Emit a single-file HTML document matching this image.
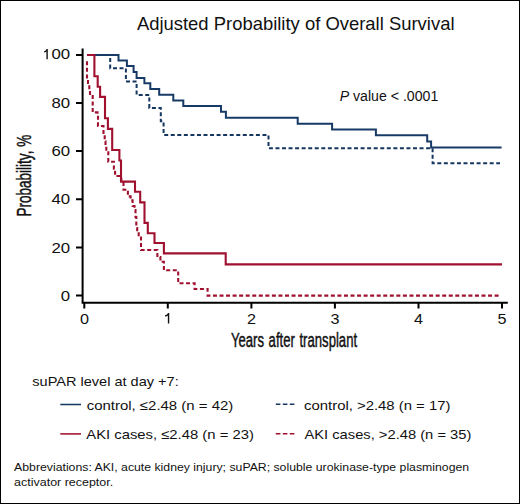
<!DOCTYPE html>
<html><head><meta charset="utf-8">
<style>
html,body{margin:0;padding:0;background:#fff;}
body{width:520px;height:504px;overflow:hidden;}
svg{display:block;}
text{font-family:"Liberation Sans",sans-serif;fill:#111;}
</style></head>
<body>
<svg width="520" height="504" viewBox="0 0 520 504">
<rect x="0.5" y="0.5" width="519" height="503" fill="#fff" stroke="#000" stroke-width="1"/>
<!-- title -->
<text x="136.9" y="29.6" font-size="18.6" textLength="317.6" lengthAdjust="spacingAndGlyphs">Adjusted Probability of Overall Survival</text>
<!-- axes -->
<g stroke="#000" stroke-width="2" fill="none">
<path d="M82.6 48.6 V303.6 M81.6 302.7 H507.8"/>
<path d="M76 54.9 H82 M76 103 H82 M76 151.1 H82 M76 199.3 H82 M76 247.5 H82 M76 295.6 H82"/>
<path d="M84.3 303 V308.6 M167.8 303 V308.6 M251.4 303 V308.6 M334.9 303 V308.6 M418.5 303 V308.6 M502 303 V308.6"/>
</g>
<!-- y tick labels -->
<g font-size="15" text-anchor="end">
<text transform="translate(70.1 59.3) scale(1.12 1)">00</text>
<text transform="translate(70.1 108.0) scale(1.12 1)">80</text>
<text transform="translate(70.1 156.1) scale(1.12 1)">60</text>
<text transform="translate(70.1 204.3) scale(1.12 1)">40</text>
<text transform="translate(70.1 252.5) scale(1.12 1)">20</text>
<text transform="translate(70.1 300.6) scale(1.12 1)">0</text>
</g>
<g font-size="15" text-anchor="middle">
<text transform="translate(84.5 323.5) scale(1.08 1)">0</text>

<text transform="translate(251.5 323.5) scale(1.08 1)">2</text>
<text transform="translate(334.9 323.5) scale(1.08 1)">3</text>
<text transform="translate(418.5 323.5) scale(1.08 1)">4</text>
<text transform="translate(502 323.5) scale(1.08 1)">5</text>
</g>
<path fill="#111" d="M46.4 49 H47.8 V59.3 H46.4 V51.5 C45.8 52.1 45 52.4 44.1 52.5 V51.3 C45.3 51.1 46.1 50.3 46.4 49 Z"/>
<path fill="#111" d="M167.85 313 H169.25 V323.4 H167.85 V315.5 C167.25 316.1 166 316.4 165 316.5 V315.3 C166.4 315.1 167.6 314.3 167.85 313 Z"/>
<!-- axis labels -->
<text x="230.9" y="346.5" font-size="20" textLength="126.2" word-spacing="1.5" stroke="#111" stroke-width="0.45" lengthAdjust="spacingAndGlyphs">Years after transplant</text>
<text transform="translate(31.4 216.6) rotate(-90)" x="0" y="0" font-size="19.6" textLength="81.8" stroke="#111" stroke-width="0.45" lengthAdjust="spacingAndGlyphs">Probability, %</text>
<!-- P value -->
<text x="339.7" y="100.8" font-size="14" textLength="98.6" lengthAdjust="spacingAndGlyphs"><tspan font-style="italic">P</tspan> value &lt; .0001</text>
<!-- curves -->
<g fill="none" stroke-width="2" stroke-linejoin="miter" stroke-linecap="butt">
<path stroke="#14365f" stroke-dasharray="4 2.55" d="M87 55 H110.2 V68.3 H125.9 V81.5 H136.6 V95 H149.3 V108 H160.8 V121.3 H163.6 V135 H268.5 V148.2 H432.6 V163.2 H500"/>
<path stroke="#173a66" d="M87 55 H118.5 V60.6 H126.9 V66.1 H133.6 V72 H136.6 V78 H144.4 V83.3 H150.3 V89 H159.2 V94.7 H173.3 V100.6 H183.3 V106 H221 V111.8 H225.9 V117.7 H297.7 V123.8 H332.1 V129.5 H375.9 V135.2 H427.2 V141.4 H431.1 V147.6 H501.6"/>
<path stroke="#a0102f" stroke-width="2.1" stroke-dasharray="4 2.55" d="M87 61.3 V78.6 H88 V83 H89.3 V89.3 H90 V96 H92.7 V112.4 H97.5 V115.2 H98 V126 H103.5 V134.8 H104.7 V141.2 H105.5 V146.7 H106.3 V152.3 H108.3 V161.7 H113.9 V168.8 H115.1 V176 H121.3 V183 H123.5 V189.7 H127.9 V196.4 H130.6 V200.4 H132.6 V206 H134.5 V210 H135.5 V217 H136.3 V228 H137.2 V232 H138.7 V236.3 H141 V250 H157.4 V257 H160.4 V261.8 H163.9 V270.3 H178.2 V283.2 H194.6 V289 H207.6 V295.6 H500"/>
<path stroke="#a0102f" stroke-width="2.1" d="M87 55 H94.4 V76.3 H97.7 V86.7 H100.1 V96.9 H105 V118.2 H107.9 V128.9 H112.2 V150 H119.4 V160.5 H121 V181.6 H135 V191.7 H140.2 V202.4 H144.5 V222.9 H147.8 V233.2 H154.5 V243 H163.9 V253.4 H225.7 V264.4 H502"/>
</g>
<!-- legend -->
<text x="32.3" y="386.2" font-size="13.5" textLength="146.4" lengthAdjust="spacingAndGlyphs">suPAR level at day +7:</text>
<g stroke-width="2">
<path stroke="#173a66" stroke-width="1.55" d="M60.3 404.5 H81"/>
<path stroke="#14365f" stroke-dasharray="4.6 2.4" stroke-width="1.6" d="M275.8 404.3 H294.6"/>
<path stroke="#a0102f" stroke-width="1.55" d="M60.3 433.9 H81"/>
<path stroke="#a0102f" stroke-dasharray="4.6 2.4" stroke-width="1.6" d="M275.8 433.8 H294.6"/>
</g>
<g font-size="13.4">
<text x="86.7" y="409.8" textLength="146.6" lengthAdjust="spacingAndGlyphs">control, ≤2.48 (n = 42)</text>
<text x="304.1" y="409.8" textLength="146.3" lengthAdjust="spacingAndGlyphs">control, &gt;2.48 (n = 17)</text>
<text x="86.25" y="439.3" textLength="167.6" lengthAdjust="spacingAndGlyphs">AKI cases, ≤2.48 (n = 23)</text>
<text x="304.4" y="439.2" textLength="167" lengthAdjust="spacingAndGlyphs">AKI cases, &gt;2.48 (n = 35)</text>
</g>
<!-- footnote -->
<g font-size="11.8">
<text x="14.1" y="470.8" textLength="455" lengthAdjust="spacingAndGlyphs">Abbreviations: AKI, acute kidney injury; suPAR; soluble urokinase-type plasminogen</text>
<text x="14.1" y="486.4" textLength="99.1" lengthAdjust="spacingAndGlyphs">activator receptor.</text>
</g>
</svg>
</body></html>
